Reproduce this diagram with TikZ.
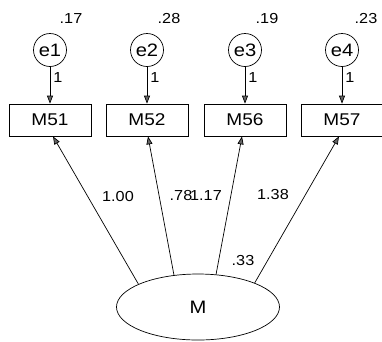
\documentclass[tikz,border=0pt]{standalone}
\usepackage{fontspec}
\setmainfont[FakeStretch=1.12]{Liberation Sans}
\usepackage{tikz}
\usetikzlibrary{positioning,arrows.meta,shapes.geometric}

\begin{document}
\begin{tikzpicture}[x=1pt, y=-1pt,
        obs/.style={draw=black, line width=0.7pt, minimum width=82pt, minimum height=32pt,
                    inner sep=0pt, font=\fontsize{17}{19}\selectfont},
        err/.style={draw=black, line width=0.7pt, circle, minimum size=33pt, inner sep=0pt,
                    font=\fontsize{18}{20}\selectfont},
        lat/.style={draw=black, line width=0.7pt, ellipse, minimum width=163pt, minimum height=66pt,
                    inner sep=0pt, font=\fontsize{18}{20}\selectfont},
        lbl/.style={inner sep=0pt, font=\fontsize{14.5}{16}\selectfont},
        arr/.style={line width=0.7pt, -{Triangle[length=8pt, width=6pt, fill=black!60]}},
      ]
      \useasboundingbox (0,0) rectangle (382,341);
      % error terms
      \node[err] (e1) at (50,50) {e1};
      \node[err] (e2) at (147,50) {e2};
      \node[err] (e3) at (245,50) {e3};
      \node[err] (e4) at (342,50) {e4};
      \node[lbl] at (71,19) {.17};
      \node[lbl] at (169,19) {.28};
      \node[lbl] at (267,19) {.19};
      \node[lbl] at (366,19) {.23};
      % indicators
      \node[obs] (M51) at (50,120) {M51};
      \node[obs] (M52) at (147,120) {M52};
      \node[obs] (M56) at (245,120) {M56};
      \node[obs] (M57) at (342,120) {M57};
      % factor
      \node[lat] (M) at (198,307) {M};
      \draw[arr] (e1) -- (M51) node[lbl, pos=0.3, right=3pt] {1};
      \draw[arr] (e2) -- (M52) node[lbl, pos=0.3, right=3pt] {1};
      \draw[arr] (e3) -- (M56) node[lbl, pos=0.3, right=3pt] {1};
      \draw[arr] (e4) -- (M57) node[lbl, pos=0.3, right=3pt] {1};
      \draw[arr] (M.159) -- ([xshift=3pt]M51.south);
      \draw[arr] (M.127) -- ([xshift=1pt]M52.south);
      \draw[arr] (M.61) -- ([xshift=-3pt]M56.south);
      \draw[arr] (M.23) -- ([xshift=-3pt]M57.south);
      \node[lbl] at (118,197) {1.00};
      \node[lbl] at (181,196) {.78};
      \node[lbl] at (206,196) {1.17};
      \node[lbl] at (273,195) {1.38};
      \node[lbl] at (243,260) {.33};
    \end{tikzpicture}
\end{document}
